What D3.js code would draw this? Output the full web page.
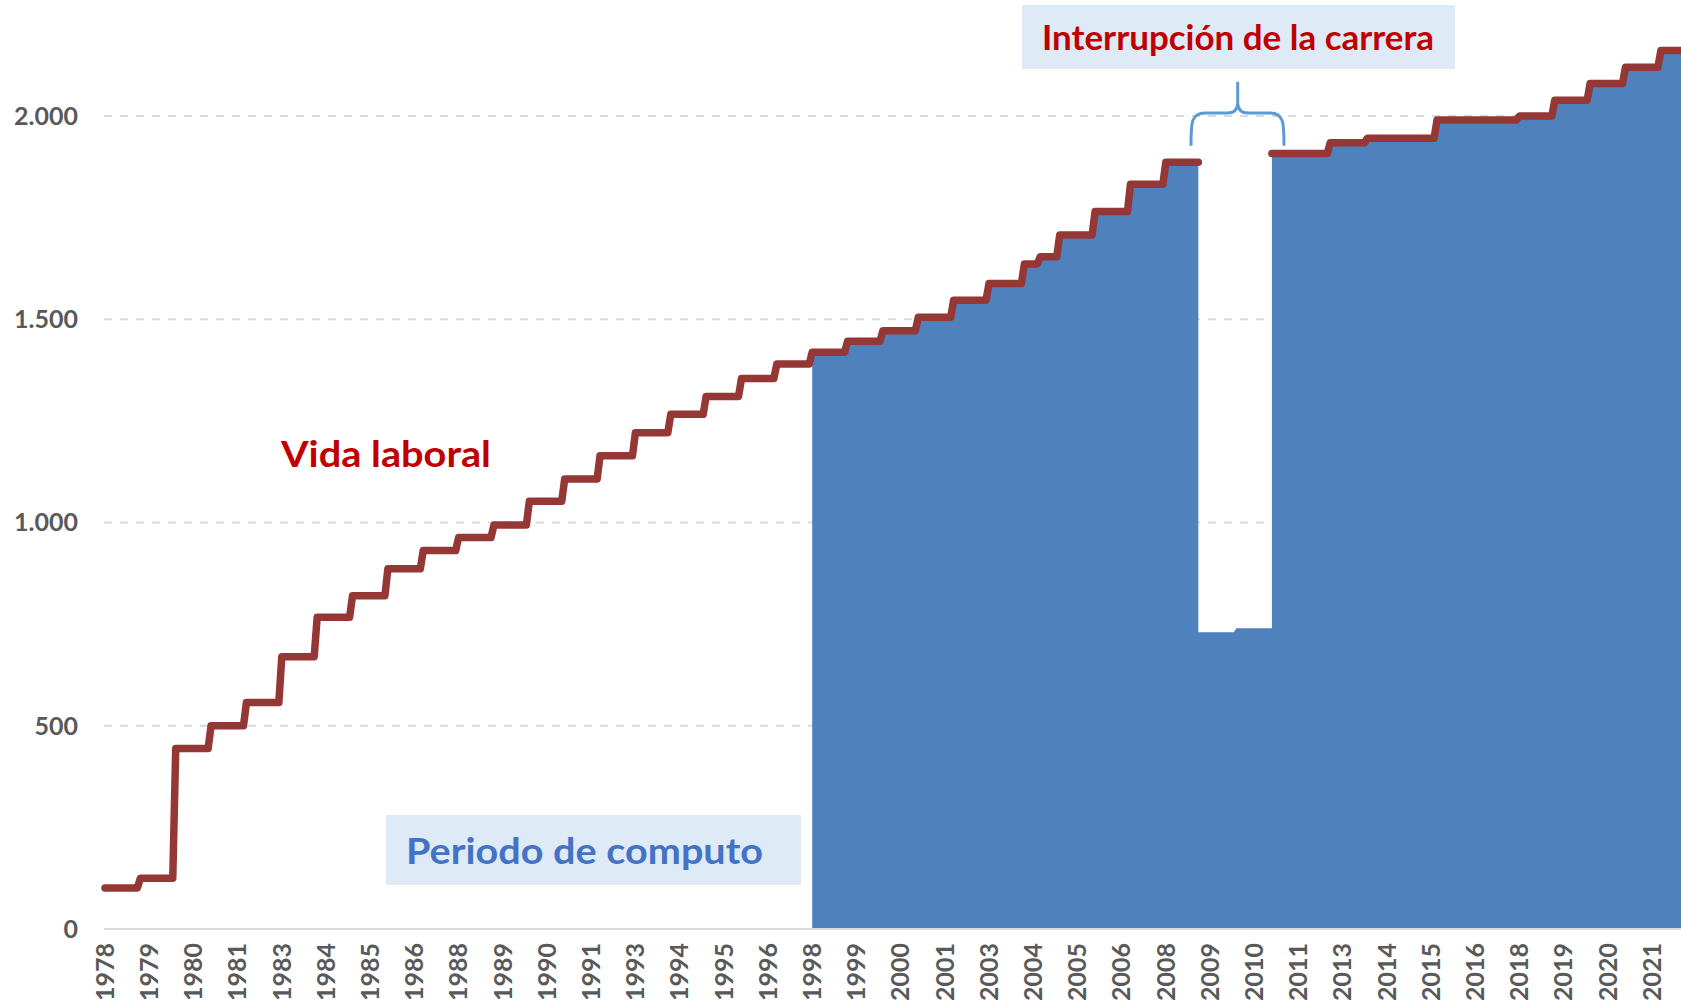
<!DOCTYPE html>
<html>
<head>
<meta charset="utf-8">
<script src="https://cdn.jsdelivr.net/npm/d3@7"></script>
<style>
  body { margin: 0; background: #fff; }
  svg { display: block; }
  .tick-label { font-family: Lato, sans-serif; font-weight: 700; fill: #595959; }
  .note { font-family: Lato, sans-serif; font-weight: 700; }
</style>
</head>
<body>
<svg id="chart"></svg>
<script>
// Vida laboral (cumulative), first stretch: year where each level starts and its value
const vidaYears1 = [1978, 1979, 1980, 1981, 1982, 1983, 1984, 1985, 1986, 1987, 1988, 1989, 1990,
  1991, 1992, 1993, 1994, 1995, 1996, 1997, 1998, 1999, 2000, 2001, 2002, 2003, 2004, 2004.45,
  2005, 2006, 2007, 2008];
const vidaValues1 = [101, 125, 444, 500, 557, 670, 767, 820, 886, 931, 963, 994, 1052,
  1107, 1164, 1221, 1266, 1310, 1354, 1390, 1419, 1446, 1472, 1505, 1547, 1588, 1636, 1654,
  1707, 1765, 1832, 1886];
const vidaEnd1 = 2008.92;

// Vida laboral after the career break
const vidaYears2 = [2011, 2012.65, 2013.7, 2015.67, 2018, 2019, 2020, 2021, 2022];
const vidaValues2 = [1908, 1934, 1945, 1990, 2000, 2039, 2080, 2120, 2161];
const vidaEnd2 = 2022.6;

// Periodo de computo: starts in 1998, lower bases during the break
const computoStart = 1998;
const gapYears = [2008.92, 2010];
const gapValues = [730, 740];

const yTicks = [0, 500, 1000, 1500, 2000];
const xTickLabels = ['1978', '1979', '1980', '1981', '1983', '1984', '1985', '1986', '1988', '1989',
  '1990', '1991', '1993', '1994', '1995', '1996', '1998', '1999', '2000', '2001', '2003', '2004',
  '2005', '2006', '2008', '2009', '2010', '2011', '2013', '2014', '2015', '2016', '2018', '2019',
  '2020', '2021'];
const tickStep = 1.25; // one label every 15 months

const width = 1681;
const height = 1005;

const svg = d3.select('#chart').attr('width', width).attr('height', height);

const xScale = d3.scaleLinear().domain([1978, 2022.57]).range([105, width]);
const yScale = d3.scaleLinear().domain([0, 2000]).range([929, 116]);

const esLocale = d3.formatLocale({ decimal: ',', thousands: '.', grouping: [3], currency: ['', ' €'] });
const fmt = esLocale.format(',');

// step line with one-month risers (monthly data)
function stepPoints(years, values, end) {
  const pts = [[years[0], values[0]]];
  for (let i = 1; i < years.length; i++) {
    pts.push([years[i] - 1 / 12, values[i - 1]]);
    pts.push([years[i], values[i]]);
  }
  pts.push([end, values[values.length - 1]]);
  return pts;
}

// gridlines
svg.append('g')
  .selectAll('line')
  .data(yTicks.filter(d => d > 0))
  .enter()
  .append('line')
  .attr('x1', 104)
  .attr('x2', width)
  .attr('y1', d => yScale(d))
  .attr('y2', d => yScale(d))
  .attr('stroke', '#d9d9d9')
  .attr('stroke-width', 2)
  .attr('stroke-dasharray', '8,8');

// blue area
const idx = vidaYears1.findIndex(y => y >= computoStart);
const computoPts = stepPoints(vidaYears1.slice(idx), vidaValues1.slice(idx), vidaEnd1)
  .concat(stepPoints(gapYears, gapValues, vidaYears2[0]))
  .concat(stepPoints(vidaYears2, vidaValues2, vidaEnd2));

const area = d3.area()
  .x(d => xScale(d[0]))
  .y0(yScale(0))
  .y1(d => yScale(d[1]));

svg.append('path')
  .datum(computoPts)
  .attr('d', area)
  .attr('fill', '#4f81bd');

// x axis line
svg.append('line')
  .attr('x1', 104)
  .attr('x2', width)
  .attr('y1', yScale(0))
  .attr('y2', yScale(0))
  .attr('stroke', '#d9d9d9')
  .attr('stroke-width', 2);

// red line
const line = d3.line()
  .x(d => xScale(d[0]))
  .y(d => yScale(d[1]));

svg.selectAll('.vida')
  .data([stepPoints(vidaYears1, vidaValues1, vidaEnd1), stepPoints(vidaYears2, vidaValues2, vidaEnd2)])
  .enter()
  .append('path')
  .attr('class', 'vida')
  .attr('d', line)
  .attr('fill', 'none')
  .attr('stroke', '#953735')
  .attr('stroke-width', 7.5)
  .attr('stroke-linejoin', 'round')
  .attr('stroke-linecap', 'round');

// y labels
svg.append('g')
  .selectAll('text')
  .data(yTicks)
  .enter()
  .append('text')
  .attr('class', 'tick-label')
  .attr('x', 78)
  .attr('y', d => yScale(d))
  .attr('dy', '.35em')
  .attr('text-anchor', 'end')
  .attr('font-size', 25)
  .text(d => fmt(d));

// x labels
svg.append('g')
  .selectAll('text')
  .data(xTickLabels)
  .enter()
  .append('text')
  .attr('class', 'tick-label')
  .attr('transform', (d, i) => `translate(${xScale(1978 + i * tickStep)},943) rotate(-90)`)
  .attr('dy', '.35em')
  .attr('text-anchor', 'end')
  .attr('font-size', 25)
  .text(d => d);

// annotation: career break
svg.append('rect')
  .attr('x', 1022).attr('y', 5).attr('width', 433).attr('height', 64)
  .attr('fill', '#deeaf6');
svg.append('text')
  .attr('class', 'note')
  .attr('x', 1042).attr('y', 50)
  .attr('font-size', 35)
  .attr('textLength', 392)
  .attr('lengthAdjust', 'spacingAndGlyphs')
  .attr('fill', '#c00000')
  .text('Interrupción de la carrera');

// curly brace over the gap
const bL = 1191, bR = 1284, bC = 1237.7, yb = 145.7, yh = 113, yt = 81.7;
svg.append('path')
  .attr('d', `M${bL},${yb} C${bL},${yh + 10} ${bL},${yh} ${bL + 14},${yh} L${bC - 10},${yh} Q${bC - 1},${yh} ${bC},${yh - 9} L${bC},${yt}` +
    ` M${bC},${yh - 9} Q${bC + 1},${yh} ${bC + 10},${yh} L${bR - 14},${yh} C${bR},${yh} ${bR},${yh + 10} ${bR},${yb}`)
  .attr('fill', 'none')
  .attr('stroke', '#5b9bd5')
  .attr('stroke-width', 3);

// annotation: computation period
svg.append('rect')
  .attr('x', 386).attr('y', 815).attr('width', 415).attr('height', 70)
  .attr('fill', '#deeaf6');
svg.append('text')
  .attr('class', 'note')
  .attr('x', 406).attr('y', 864)
  .attr('font-size', 37)
  .attr('textLength', 357)
  .attr('lengthAdjust', 'spacingAndGlyphs')
  .attr('fill', '#4472c4')
  .text('Periodo de computo');

// label for the red line
svg.append('text')
  .attr('class', 'note')
  .attr('x', 281).attr('y', 467)
  .attr('font-size', 37)
  .attr('textLength', 210)
  .attr('lengthAdjust', 'spacingAndGlyphs')
  .attr('fill', '#c00000')
  .text('Vida laboral');
</script>
</body>
</html>
